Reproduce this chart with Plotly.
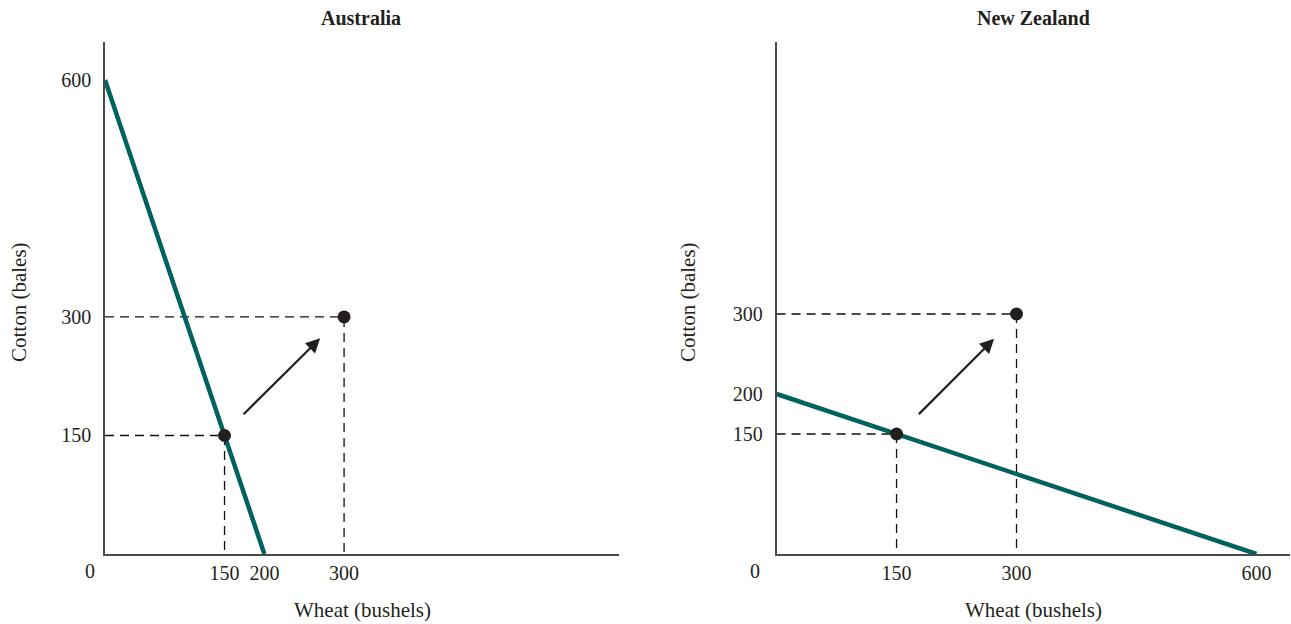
import plotly.graph_objects as go

# ---- data ----
panels = ["Australia", "New Zealand"]
aus_ppf_wheat = [0, 200]
aus_ppf_cotton = [600, 0]
nz_ppf_wheat = [0, 600]
nz_ppf_cotton = [200, 0]
aus_xticks = [150, 200, 300]
aus_yticks = [150, 300, 600]
nz_xticks = [150, 300, 600]
nz_yticks = [150, 200, 300]
prod_point = (150, 150)   # autarky point (both)
cons_point = (300, 300)   # consumption with trade (both)
aus_arrow = ((172, 175), (270, 273))
nz_arrow = ((176, 173), (272, 269))
x_title = "Wheat (bushels)"
y_title = "Cotton (bales)"

TEAL = "#00625f"
INK = "#231f20"
FONT = "Liberation Serif"

W, H = 1291, 624
fig = go.Figure()

def px_x(p):
    return p / W

def px_y(p):
    return 1 - p / H

fig.update_layout(
    xaxis=dict(domain=[px_x(105), px_x(619)], range=[0, 645]),
    yaxis=dict(domain=[px_y(554), px_y(42)], range=[0, 648]),
    xaxis2=dict(domain=[px_x(776.6), px_x(1290)], range=[0, 642], anchor="y2"),
    yaxis2=dict(domain=[px_y(554), px_y(42)], range=[0, 640], anchor="x2"),
)

def add_panel(xr, yr, ppf_x, ppf_y, arrow, zero_shift):
    px, py = prod_point
    cx, cy = cons_point
    dash = dict(color="#111111", width=1.3, dash="9px,6px")
    fig.add_trace(go.Scatter(x=[0, cx, cx], y=[cy, cy, 0], mode="lines", line=dash,
                             xaxis=xr, yaxis=yr, hoverinfo="skip", showlegend=False))
    fig.add_trace(go.Scatter(x=[0, px, px], y=[py, py, 0], mode="lines", line=dash,
                             xaxis=xr, yaxis=yr, hoverinfo="skip", showlegend=False))
    fig.add_trace(go.Scatter(x=ppf_x, y=ppf_y, mode="lines", line=dict(color=TEAL, width=4.5),
                             xaxis=xr, yaxis=yr, showlegend=False, cliponaxis=False))
    fig.add_trace(go.Scatter(x=[px, cx], y=[py, cy], mode="markers",
                             marker=dict(color=INK, size=13),
                             xaxis=xr, yaxis=yr, showlegend=False, cliponaxis=False))
    (tx, ty), (hx, hy) = arrow
    fig.add_annotation(x=hx, y=hy, ax=tx, ay=ty, xref=xr, yref=yr,
                       axref=xr, ayref=yr, showarrow=True, arrowhead=2,
                       arrowsize=1.3, arrowwidth=2.2, arrowcolor=INK, text="")
    fig.add_annotation(x=0, y=0, xref=xr, yref=yr, text="0", showarrow=False,
                       xshift=zero_shift, yshift=-17, font=dict(family=FONT, size=20, color=INK))

add_panel("x", "y", aus_ppf_wheat, aus_ppf_cotton, aus_arrow, -15)
add_panel("x2", "y2", nz_ppf_wheat, nz_ppf_cotton, nz_arrow, -22)

axis_common = dict(showgrid=False, zeroline=False, showline=True, linecolor="#4a4a4a",
                   linewidth=1.5, ticks="", tickfont=dict(family=FONT, size=20, color=INK),
                   fixedrange=True)
fig.update_xaxes(**axis_common)
fig.update_yaxes(**axis_common)
fig.update_layout(
    xaxis=dict(tickvals=aus_xticks, ticklabelstandoff=0),
    yaxis=dict(tickvals=aus_yticks, ticklabelstandoff=8),
    xaxis2=dict(tickvals=nz_xticks, ticklabelstandoff=0),
    yaxis2=dict(tickvals=nz_yticks, ticklabelstandoff=8),
)

for name, cx in zip(panels, [361, 1033]):
    fig.add_annotation(x=px_x(cx), y=px_y(18), xref="paper", yref="paper", text=f"<b>{name}</b>",
                       showarrow=False, xanchor="center", yanchor="middle",
                       font=dict(family=FONT, size=20, color=INK))
for cx in [362, 1033]:
    fig.add_annotation(x=px_x(cx), y=px_y(610), xref="paper", yref="paper", text=x_title,
                       showarrow=False, xanchor="center", yanchor="middle",
                       font=dict(family=FONT, size=21, color=INK))
for cx in [19, 688]:
    fig.add_annotation(x=px_x(cx), y=px_y(302), xref="paper", yref="paper", text=y_title,
                       showarrow=False, textangle=-90, xanchor="center", yanchor="middle",
                       font=dict(family=FONT, size=21, color=INK))

fig.update_layout(width=W, height=H, margin=dict(l=0, r=0, t=0, b=0),
                  paper_bgcolor="white", plot_bgcolor="white",
                  font=dict(family=FONT, color=INK))

fig.write_html("out.html", config={"displayModeBar": False},
               post_script="document.body.style.margin='0';")
